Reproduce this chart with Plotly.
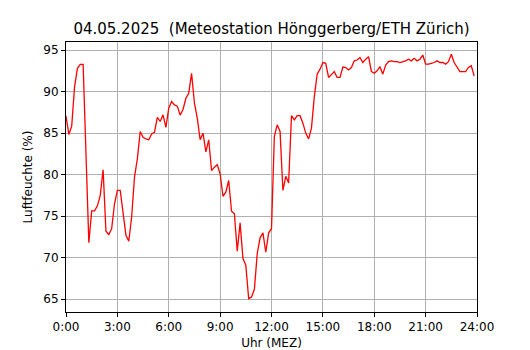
import plotly.graph_objects as go

# 10-minute humidity readings, 0:00 .. 23:50
hours = [i / 6 for i in range(144)]
humidity = [
    87.05, 84.84, 85.84, 90.58, 92.8, 93.27, 93.27, 81.0, 71.8, 75.64,
    75.64, 76.25, 77.5, 80.6, 73.2, 72.8, 73.5, 76.5, 78.1, 78.1,
    75.7, 72.7, 72.0, 74.9, 79.7, 81.9, 85.2, 84.5, 84.3, 84.2,
    84.9, 85.1, 86.9, 86.4, 87.2, 85.7, 88.0, 88.8, 88.4, 88.25,
    87.17, 87.85, 89.2, 89.8, 92.2, 88.6, 86.8, 84.2, 85.0, 82.75,
    84.2, 80.5, 80.9, 81.2, 80.1, 77.4, 77.9, 79.3, 75.6, 75.3,
    70.8, 74.2, 69.9, 69.1, 65.08, 65.28, 66.2, 70.5, 72.4, 73.0,
    70.66, 73.0, 73.5, 84.6, 86.0, 85.2, 78.1, 79.8, 79.0, 87.1,
    86.6, 87.1, 87.1, 86.2, 85.0, 84.3, 85.6, 89.4, 92.1, 92.7,
    93.5, 93.4, 91.7, 92.1, 92.4, 91.7, 91.7, 92.95, 92.9, 92.6,
    92.9, 93.7, 93.8, 94.1, 93.5, 93.9, 94.2, 92.4, 92.2, 92.5,
    93.0, 92.1, 93.2, 93.6, 93.7, 93.6, 93.6, 93.5, 93.6, 93.7,
    93.9, 93.7, 94.0, 93.7, 93.9, 94.4, 93.3, 93.3, 93.4, 93.5,
    93.7, 93.5, 93.5, 93.3, 93.6, 94.5, 93.5, 93.0, 92.4, 92.4,
    92.4, 92.9, 93.1, 91.9,
]
x_tick_vals = [0, 3, 6, 9, 12, 15, 18, 21, 24]
x_tick_text = ["0:00", "3:00", "6:00", "9:00", "12:00", "15:00", "18:00", "21:00", "24:00"]
y_tick_vals = [65, 70, 75, 80, 85, 90, 95]

title_text = "04.05.2025\u00a0 (Meteostation Hönggerberg/ETH Zürich)"

fig = go.Figure()
fig.add_trace(go.Scatter(
    x=hours, y=humidity, mode="lines",
    line=dict(color="#ff0000", width=1.3),
    hoverinfo="skip", showlegend=False,
))

axis_common = dict(
    showline=True, linecolor="black", linewidth=1, mirror=True,
    ticks="outside", ticklen=4, tickwidth=1, tickcolor="black",
    showgrid=True, gridcolor="#b0b0b0", gridwidth=1,
    zeroline=False, tickfont=dict(size=12, color="black"),
    automargin=False,
)

fig.update_layout(
    width=530, height=350,
    margin=dict(l=66, r=53, t=42, b=38),
    paper_bgcolor="white", plot_bgcolor="white",
    font=dict(family="DejaVu Sans", color="black"),
    title=dict(text=title_text, x=271.5 / 530, xanchor="center",
               y=1 - 29 / 350, yanchor="middle", yref="container",
               font=dict(size=15, color="black")),
    xaxis=dict(range=[0, 24], tickvals=x_tick_vals, ticktext=x_tick_text,
               title=dict(text="Uhr (MEZ)", font=dict(size=12), standoff=6),
               **axis_common),
    yaxis=dict(range=[63.47, 95.97], tickvals=y_tick_vals,
               title=dict(text="Luftfeuchte (%)", font=dict(size=12), standoff=8),
               **axis_common),
)

fig.write_html("out.html",
               config={"displayModeBar": False, "staticPlot": True},
               post_script="document.body.style.margin='0';document.body.style.overflow='hidden';")
